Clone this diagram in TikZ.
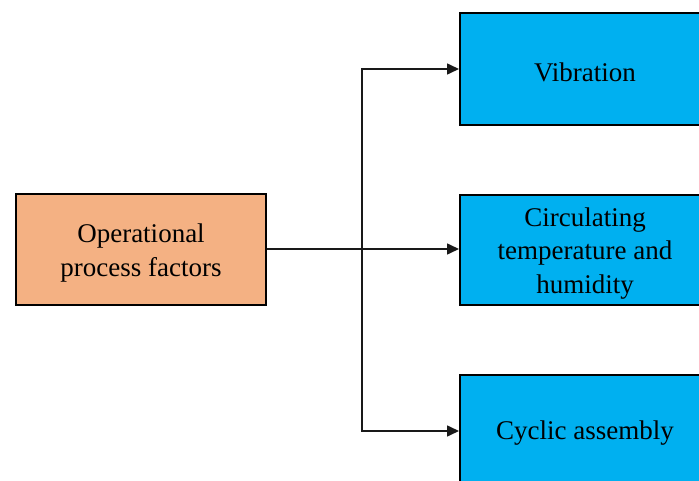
\documentclass[tikz,border=0pt]{standalone}
\usepackage{fontspec}
\setmainfont{Liberation Serif}
\usetikzlibrary{arrows.meta}
\definecolor{boxorange}{HTML}{F4B183}
\definecolor{boxblue}{HTML}{00B0F0}
\tikzset{
  factorbox/.style={draw=black, line width=2pt, minimum width=250pt, inner sep=0pt},
  boxtext/.style={align=center, font=\fontsize{27}{33.5}\selectfont, text=black, yshift=-3.5pt, inner sep=0pt},
  link/.style={line width=1.6pt, draw=black!90, line join=miter},
  linkarrow/.style={link, -{Triangle[length=12pt,width=11pt]}}
}
\begin{document}
\begin{tikzpicture}[x=1pt,y=-1pt]
\useasboundingbox (0,0) rectangle (699,481);
\clip (0,0) rectangle (699,481);
\node[factorbox, fill=boxorange, minimum height=110.5pt,
  label={[boxtext]center:Operational\\process factors}] (L) at (141,249.75) {};
\node[factorbox, fill=boxblue, minimum height=112pt,
  label={[boxtext]center:Vibration}] (V) at (585,69) {};
\node[factorbox, fill=boxblue, minimum height=110pt,
  label={[boxtext]center:Circulating\\temperature and\\humidity}] (C) at (585,250) {};
\node[factorbox, fill=boxblue, minimum height=110pt,
  label={[boxtext]center:Cyclic assembly}] (Y) at (585,430) {};
\coordinate (J) at (362,249);
\coordinate (JT) at (362,69);
\coordinate (JB) at (362,431);
\draw[link, line width=2.4pt] (L.east |- J) -- (J);
\draw[linkarrow] (J) |- (JT -| V.west);
\draw[linkarrow] (J) -- (J -| C.west);
\draw[linkarrow] (J) |- (JB -| Y.west);
\end{tikzpicture}
\end{document}
